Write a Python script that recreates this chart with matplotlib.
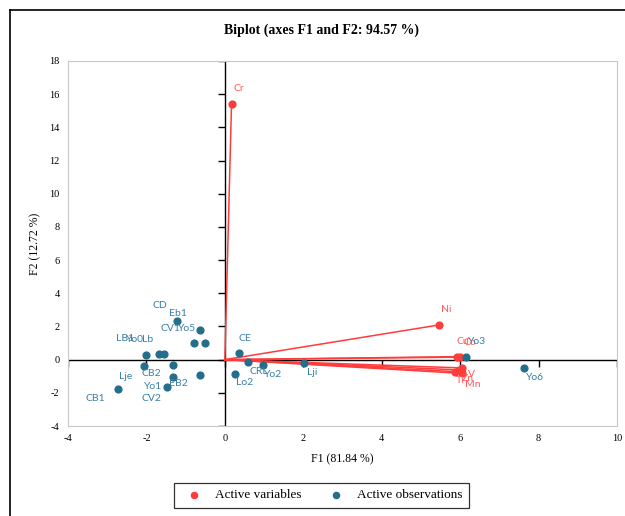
import matplotlib
matplotlib.use('Agg')
import matplotlib.pyplot as plt
from matplotlib.lines import Line2D
import numpy as np

plt.rcParams['axes.unicode_minus'] = False

# Active variables (F1, F2 coordinates)
var_names = ['Cr', 'Ni', 'Cu', 'Co', 'V', 'Zn', 'Ti', 'Mn']
var_f1 = [0.17, 5.46, 5.91, 5.99, 6.05, 5.98, 5.87, 6.06]
var_f2 = [15.4, 2.09, 0.18, 0.15, -0.50, -0.62, -0.72, -0.83]

# Active observations
obs_names = ['Eb1', 'Yo5', 'CV1', 'CD', 'LB1', 'Yo0', 'Lb', 'Lje', 'CB2', 'EB2',
             'Yo1', 'CV2', 'CB1', 'CE', 'CRL', 'Yo2', 'Lo2', 'Lji', 'Yo3', 'Yo6']
obs_f1 = [-1.21, -0.64, -0.78, -0.50, -2.01, -1.69, -1.54, -2.06, -1.32, -1.31,
          -0.64, -1.48, -2.73, 0.35, 0.60, 0.96, 0.25, 2.02, 6.16, 7.62]
obs_f2 = [2.35, 1.79, 0.98, 0.98, 0.26, 0.34, 0.34, -0.40, -0.30, -1.02,
          -0.92, -1.67, -1.79, 0.42, -0.16, -0.34, -0.86, -0.20, 0.16, -0.48]

x_ticks = [-4, -2, 0, 2, 4, 6, 8, 10]
y_ticks = [-4, -2, 0, 2, 4, 6, 8, 10, 12, 14, 16, 18]

# label offsets in pixels (dx, dy) - screen up is +dy
var_off = {'Cr': (7, 16), 'Ni': (7, 15), 'Cu': (6, 15), 'Co': (10, 15), 'V': (9, -7),
           'Zn': (8, -9), 'Ti': (5, -9), 'Mn': (10, -11)}
obs_off = {'Eb1': (1, 7), 'Yo5': (-13, 1), 'CV1': (-24, 15), 'CD': (-45, 38),
           'LB1': (-21, 17), 'Yo0': (-24, 15), 'Lb': (-17, 15), 'Lje': (-18, -10),
           'CB2': (-22, -9), 'EB2': (5, -7), 'Yo1': (-47, -12), 'CV2': (-15, -11),
           'CB1': (-22, -9), 'CE': (6, 14), 'CRL': (10, -9), 'Yo2': (11, -9),
           'Lo2': (10, -9), 'Lji': (8, -10), 'Yo3': (11, 15), 'Yo6': (11, -10)}

red = '#ff3b3b'
red_txt = '#ff5a5a'
blue = '#246e8c'
blue_txt = '#3a7fa8'
serif = 'Liberation Serif'
lab_font = 'Lato'

fig = plt.figure(figsize=(6.25, 5.16), dpi=100)
ax = fig.add_axes([0.1088, 0.1744, 0.8784, 0.7074])

# cross axes with their own tick marks
ax.axhline(0, color='black', lw=1.0, zorder=1)
ax.axvline(0, color='black', lw=1.0, zorder=1)
ax.plot(x_ticks, np.zeros(len(x_ticks)), ls='none', marker=3, ms=5, mew=1, color='black', zorder=1)
ax.plot(np.zeros(len(y_ticks)), y_ticks, ls='none', marker=0, ms=5, mew=1, color='black', zorder=1)

# variable vectors
for n, x, y in zip(var_names, var_f1, var_f2):
    ax.plot([0, x], [0, y], color=red, lw=1.1, zorder=2)
ax.scatter(var_f1, var_f2, s=24, color=red, zorder=3, label='Active variables')
for n, x, y in zip(var_names, var_f1, var_f2):
    ax.annotate(n, (x, y), xytext=var_off[n], textcoords='offset pixels', ha='center',
                va='center', fontsize=7.5, color=red_txt, family=lab_font)

# observations
ax.scatter(obs_f1, obs_f2, s=24, color=blue, zorder=3, label='Active observations')
for n, x, y in zip(obs_names, obs_f1, obs_f2):
    ax.annotate(n, (x, y), xytext=obs_off[n], textcoords='offset pixels', ha='center',
                va='center', fontsize=7.5, color=blue_txt, family=lab_font)

ax.set_xlim(-4, 10)
ax.set_ylim(-4, 18)
ax.set_xticks(x_ticks)
ax.set_yticks(y_ticks)
ax.tick_params(length=0, labelsize=7.5, pad=6)
for lab in ax.get_xticklabels() + ax.get_yticklabels():
    lab.set_family(serif)
for sp in ax.spines.values():
    sp.set_color('#c8c8c8')
    sp.set_linewidth(0.8)

ax.set_xlabel('F1 (81.84 %)', family=serif, fontsize=8.5, labelpad=7)
ax.set_ylabel('F2 (12.72 %)', family=serif, fontsize=8.5, labelpad=6)
fig.text(0.515, 0.942, 'Biplot (axes F1 and F2: 94.57 %)', ha='center', va='center',
         family=serif, fontsize=10, weight='bold')

# figure border (cropped)
fig.add_artist(Line2D([10 / 625, 1], [1 - 10 / 516, 1 - 10 / 516], color='black', lw=1.2))
fig.add_artist(Line2D([10 / 625, 10 / 625], [0, 1 - 10 / 516], color='black', lw=1.2))

leg = fig.legend(loc='center', bbox_to_anchor=(0.515, 0.04), ncol=2, frameon=True,
                 fancybox=False, edgecolor='black', prop={'family': serif, 'size': 9.5},
                 handletextpad=0.6, columnspacing=1.6, markerscale=0.9, borderpad=0.5)
leg.get_frame().set_linewidth(0.9)

fig.savefig('out.png', dpi=100)
